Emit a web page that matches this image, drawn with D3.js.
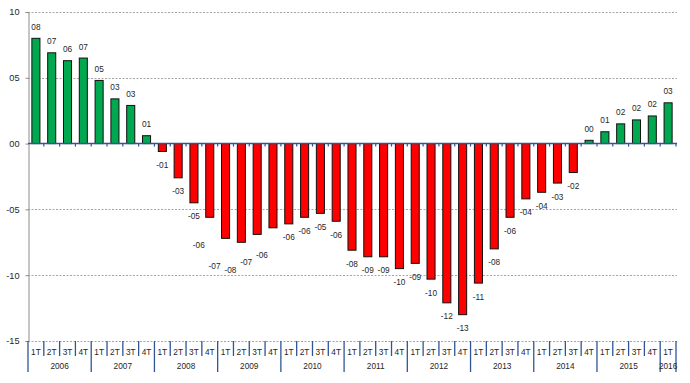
<!DOCTYPE html>
<html>
<head>
<meta charset="utf-8">
<script src="https://cdn.jsdelivr.net/npm/d3@7/dist/d3.min.js"></script>
<style>
  html, body { margin: 0; padding: 0; background: #fff; }
  svg { display: block; font-family: "Liberation Sans", Arial, sans-serif; }
</style>
</head>
<body>
<svg id="chart" width="690" height="383"></svg>
<script>
// ---- data ----
const years = ["2006","2007","2008","2009","2010","2011","2012","2013","2014","2015","2016"];
const quarters = ["1T","2T","3T","4T"];
const values = [8.0, 6.9, 6.3, 6.5, 4.8, 3.4, 2.9, 0.6,
  -0.6, -2.6, -4.5, -5.6, -7.2, -7.5, -6.9, -6.4, -6.1, -5.6, -5.3, -5.9,
  -8.1, -8.6, -8.6, -9.5, -9.1, -10.3, -12.1, -13.0, -10.6, -8.0, -5.6, -4.2, -3.7, -3.0, -2.2,
  0.25, 0.9, 1.5, 1.8, 2.1, 3.1];
const valueLabels = ["08","07","06","07","05","03","03","01",
  "-01","-03","-05","-06","-07","-08","-07","-06","-06","-06","-05","-06",
  "-08","-09","-09","-10","-09","-10","-12","-13","-11","-08","-06","-04","-04","-03","-02",
  "00","01","02","02","02","03"];
const yTicks = [10, 5, 0, -5, -10, -15];

// ---- layout ----
const shiftedLabels = [11, 12, 13, 14, 15];
const mLeft = 28, mRight = 676, mTop = 12, mBottom = 341;
const FS = "9.2px", SX = 0.9, TXT = "#262626";

const cats = values.map((v, i) => ({
  i, v, label: valueLabels[i],
  year: years[Math.floor(i / 4)],
  q: quarters[i % 4]
}));

const svg = d3.select("#chart");
const x = d3.scaleBand().domain(cats.map(d => d.i)).range([mLeft, mRight])
  .paddingInner(0.49).paddingOuter(0.245);
const y = d3.scaleLinear().domain([-15, 10]).range([mBottom, mTop]);
const step = x.step();
const fmt = v => (v < 0 ? "-" : "") + String(Math.abs(v)).padStart(2, "0");

// text helper: placed text, slightly condensed
function place(sel, fx, fy) {
  sel.attr("transform", (d, i) => `translate(${fx(d, i)},${fy(d, i)}) scale(${SX},1)`)
    .attr("text-anchor", "middle").attr("fill", TXT).style("font-size", FS);
}

// gridlines (dotted)
svg.append("g").selectAll("line").data(yTicks.filter(t => t !== 0)).join("line")
  .attr("x1", mLeft).attr("x2", mRight + 1)
  .attr("y1", d => Math.round(y(d)) + 0.5).attr("y2", d => Math.round(y(d)) + 0.5)
  .attr("stroke", "#a6a6a6").attr("stroke-width", 1).attr("stroke-dasharray", "2,1.5");

// y axis
const yAxis = d3.axisLeft(y).tickValues(yTicks).tickFormat(fmt).tickSize(3).tickPadding(6);
const gy = svg.append("g").attr("transform", `translate(${mLeft + 0.5},0)`).call(yAxis);
gy.select(".domain").attr("stroke", "#8c8c8c");
gy.selectAll(".tick line").attr("stroke", "#8c8c8c");
gy.selectAll(".tick text").attr("fill", TXT).style("font-size", FS)
  .style("font-family", "'Liberation Sans', Arial, sans-serif");

// bars
svg.append("g").selectAll("rect").data(cats).join("rect")
  .attr("x", d => x(d.i))
  .attr("width", x.bandwidth())
  .attr("y", d => d.v >= 0 ? y(d.v) : y(0))
  .attr("height", d => Math.abs(y(d.v) - y(0)))
  .attr("fill", d => d.v >= 0 ? "#00a84f" : "#ff0000")
  .attr("stroke", "#111").attr("stroke-width", 1);

// zero line with small ticks at category boundaries
const zeroY = y(0);
svg.append("line").attr("x1", mLeft).attr("x2", mRight + 1)
  .attr("y1", zeroY).attr("y2", zeroY)
  .attr("stroke", "#2f5597").attr("stroke-width", 1.5);
svg.append("g").selectAll("line").data(d3.range(1, cats.length + 1)).join("line")
  .attr("x1", d => mLeft + d * step).attr("x2", d => mLeft + d * step)
  .attr("y1", zeroY).attr("y2", zeroY + 3)
  .attr("stroke", "#2f5597").attr("stroke-width", 1.2);

// data labels
place(svg.append("g").selectAll("text").data(cats).join("text").text(d => d.label),
  d => x(d.i) + x.bandwidth() / 2 + (shiftedLabels.includes(d.i) ? -11 : 0),
  d => d.v >= 0 ? y(d.v) - 8.5 : y(d.v) + (shiftedLabels.includes(d.i) ? 30.5 : 16.5));

// category axis: separators
const sep = svg.append("g");
d3.range(0, cats.length + 1).forEach(k => {
  const isYear = k % 4 === 0 || k === cats.length;
  sep.append("line")
    .attr("x1", mLeft + k * step).attr("x2", mLeft + k * step)
    .attr("y1", mBottom).attr("y2", isYear ? 372 : 356)
    .attr("stroke", "#2f5597").attr("stroke-width", 1.3);
});

// quarter labels
place(svg.append("g").selectAll("text").data(cats).join("text").text(d => d.q),
  d => x(d.i) + x.bandwidth() / 2, () => 355);

// year labels
const yearGroups = d3.groups(cats, d => d.year);
place(svg.append("g").selectAll("text").data(yearGroups).join("text").text(g => g[0]),
  g => {
    const first = g[1][0].i, last = g[1][g[1].length - 1].i;
    return (mLeft + first * step + mLeft + (last + 1) * step) / 2;
  }, () => 369);
</script>
</body>
</html>
